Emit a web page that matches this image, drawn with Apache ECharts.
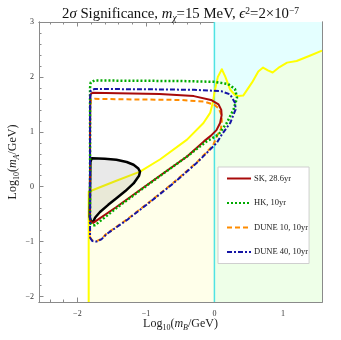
<!DOCTYPE html>
<html><head><meta charset="utf-8">
<script src="https://cdn.jsdelivr.net/npm/echarts@6/dist/echarts.min.js"></script>
<style>html,body{margin:0;padding:0;background:#fff}#c{width:341px;height:340px}</style>
</head><body><div id="c"></div>
<script>
const xMin = -2.56, xMax = 1.57, yMin = -2.1, yMax = 3;
const xTicks = [-2, -1, 0, 1];
const xMinorTicks = [-2.4, -2.2, -1.8, -1.6, -1.4, -1.2, -0.8, -0.6, -0.4, -0.2, 0.2, 0.4, 0.6, 0.8, 1.2, 1.4];
const yTicks = [-2, -1, 0, 1, 2, 3];
const yMinorTicks = [-1.8, -1.6, -1.4, -1.2, -0.8, -0.6, -0.4, -0.2, 0.2, 0.4, 0.6, 0.8, 1.2, 1.4, 1.6, 1.8, 2.2, 2.4, 2.6, 2.8];

const boundaryX = 0;
const yellowCurve = [[-1.835,-2.1],[-1.835,-0.09],[-1.79,-0.07],[-1.45,0.1],[-1.086,0.275],[-0.79,0.5],[-0.40,0.857],[-0.16,1.16],[-0.06,1.35],[-0.02,1.55],[0,1.72],[0.05,2.0],[0.108,2.14],[0.16,2.0],[0.23,1.77],[0.3,1.67],[0.35,1.65],[0.42,1.66],[0.55,1.9],[0.64,2.1],[0.71,2.17],[0.78,2.12],[0.85,2.08],[0.95,2.18],[1.06,2.26],[1.2,2.29],[1.4,2.39],[1.57,2.48]];

const skCurve = [[-1.815,-0.6],[-1.80,-0.645],[-1.77,-0.66],[-1.43,-0.37],[-1.086,-0.06],[-0.745,0.245],[-0.40,0.55],[-0.15,0.83],[-0.05,0.93],[0.03,1.03],[0.083,1.16],[0.105,1.3],[0.1,1.4],[0.06,1.5],[-0.05,1.58],[-0.3,1.65],[-0.8,1.69],[-1.4,1.70],[-1.78,1.71],[-1.81,1.68],[-1.815,1.0],[-1.815,0],[-1.815,-0.6]];
const hkCurve = [[-1.815,-0.66],[-1.78,-0.70],[-1.74,-0.70],[-1.43,-0.39],[-1.086,-0.07],[-0.745,0.24],[-0.40,0.55],[-0.12,0.82],[0.06,0.95],[0.18,1.16],[0.28,1.41],[0.33,1.62],[0.30,1.78],[0.2,1.87],[0.0,1.91],[-0.5,1.925],[-1.2,1.93],[-1.75,1.935],[-1.805,1.9],[-1.815,1.8],[-1.815,0],[-1.815,-0.66]];
const dune10Curve = [[-1.815,-0.92],[-1.78,-0.98],[-1.72,-0.99],[-1.65,-0.95],[-1.57,-0.85],[-1.28,-0.6],[-0.94,-0.27],[-0.6,0.07],[-0.26,0.44],[-0.02,0.75],[0.035,0.92],[0.095,1.05],[0.108,1.2],[0.1,1.32],[0.06,1.43],[0.0,1.49],[-0.15,1.55],[-0.5,1.58],[-1.2,1.59],[-1.75,1.6],[-1.805,1.57],[-1.815,1.4],[-1.815,0],[-1.815,-0.92]];
const dune40Curve = [[-1.815,-0.93],[-1.78,-0.99],[-1.72,-1.0],[-1.65,-0.96],[-1.57,-0.86],[-1.28,-0.61],[-0.94,-0.28],[-0.6,0.06],[-0.26,0.43],[0.035,0.8],[0.108,0.95],[0.23,1.16],[0.31,1.41],[0.30,1.53],[0.23,1.68],[0.1,1.74],[-0.3,1.765],[-1.0,1.775],[-1.75,1.78],[-1.805,1.75],[-1.815,1.6],[-1.815,0],[-1.815,-0.93]];
const blackCurve = [[-1.79,0.52],[-1.6,0.51],[-1.43,0.49],[-1.28,0.45],[-1.18,0.40],[-1.11,0.33],[-1.086,0.275],[-1.1,0.2],[-1.18,0.06],[-1.3,-0.08],[-1.43,-0.21],[-1.55,-0.33],[-1.67,-0.46],[-1.74,-0.56],[-1.77,-0.64],[-1.80,-0.63],[-1.82,-0.55],[-1.815,0.0],[-1.81,0.45]];

const seriesNames = ['SK, 28.6yr', 'HK, 10yr', 'DUNE 10, 10yr', 'DUNE 40, 10yr'];

const serif = '"Liberation Serif", "DejaVu Serif", serif';
const fmt = v => String(v).replace('-', '\u2212');
const axColor = '#8a8a8a';

function xa(pos, ticks, len, labels, extra) {
  return Object.assign({
    type: 'value', min: xMin, max: xMax, position: pos,
    axisLine: {show: true, onZero: false, lineStyle: {color: axColor, width: 1}},
    axisTick: {show: true, inside: true, length: len, customValues: ticks, lineStyle: {color: axColor}},
    axisLabel: labels ? {show: true, customValues: ticks, formatter: fmt, fontFamily: serif, fontSize: 8, color: '#333', margin: 8} : {show: false},
    splitLine: {show: false}
  }, extra || {});
}
function ya(pos, ticks, len, labels, extra) {
  return Object.assign({
    type: 'value', min: yMin, max: yMax, position: pos,
    axisLine: {show: true, onZero: false, lineStyle: {color: axColor, width: 1}},
    axisTick: {show: true, inside: true, length: len, customValues: ticks, lineStyle: {color: axColor}},
    axisLabel: labels ? {show: true, customValues: ticks, formatter: fmt, fontFamily: serif, fontSize: 8, color: '#333', margin: 5} : {show: false},
    splitLine: {show: false}
  }, extra || {});
}

const nameRich = {
  n: {fontFamily: serif, fontSize: 12, fontWeight: 'normal', color: '#222', lineHeight: 16, verticalAlign: 'middle'},
  i: {fontFamily: serif, fontSize: 12, fontWeight: 'normal', fontStyle: 'italic', color: '#222', lineHeight: 16, verticalAlign: 'middle'},
  s: {fontFamily: serif, fontSize: 8, fontWeight: 'normal', color: '#222', lineHeight: 9, verticalAlign: 'bottom'},
  si: {fontFamily: serif, fontSize: 8, fontWeight: 'normal', fontStyle: 'italic', color: '#222', lineHeight: 9, verticalAlign: 'bottom'}
};

function polySeries(points, fill, stroke, lw, z) {
  return {
    type: 'custom', coordinateSystem: 'cartesian2d', silent: true, z: z, clip: true,
    data: [[points[0][0], points[0][1]]],
    renderItem: (params, api) => ({
      type: 'polygon',
      shape: {points: points.map(p => api.coord(p))},
      style: {fill: fill, stroke: stroke || null, lineWidth: lw || 0, lineJoin: 'round'}
    })
  };
}

const leftYellow = yellowCurve.filter(p => p[0] <= boundaryX).concat([[boundaryX, yMin]]);
const rightGreen = yellowCurve.filter(p => p[0] >= boundaryX).concat([[xMax, yMin], [boundaryX, yMin]]);
const cyanRect = [[boundaryX, yMin], [xMax, yMin], [xMax, yMax], [boundaryX, yMax]];

function lineS(name, data, color, width, type, z) {
  return {
    name: name, type: 'line', data: data, symbol: 'none', z: z, silent: true, animation: false,
    lineStyle: {color: color, width: width, type: type, cap: 'butt', join: 'round'},
    itemStyle: {color: color}
  };
}

const chart = echarts.init(document.getElementById('c'), null, {renderer: 'canvas'});
chart.setOption({
  animation: false,
  backgroundColor: '#fff',
  title: {
    text: '{n|2}{i|σ}{n| Significance, }{i|m}{si|χ}{n|=15 MeV, }{i|ϵ}{p|2}{n|=2×10}{p|−7}',
    left: 57, top: 1,
    textStyle: {fontWeight: 'normal', rich: {
      n: {fontFamily: serif, fontSize: 14.8, fontWeight: 'normal', color: '#111', lineHeight: 17, verticalAlign: 'middle'},
      i: {fontFamily: serif, fontSize: 14.8, fontWeight: 'normal', fontStyle: 'italic', color: '#111', lineHeight: 17, verticalAlign: 'middle'},
      si: {fontFamily: serif, fontSize: 9.5, fontWeight: 'normal', fontStyle: 'italic', color: '#111', lineHeight: 10, verticalAlign: 'bottom'},
      p: {fontFamily: serif, fontSize: 9.5, fontWeight: 'normal', color: '#111', lineHeight: 10, verticalAlign: 'top'}
    }}
  },
  grid: {left: 39, right: 19, top: 22, bottom: 38, containLabel: false, outerBoundsMode: 'none'},
  legend: {
    orient: 'vertical', left: 218, top: 167,
    data: seriesNames,
    itemWidth: 24, itemHeight: 10, itemGap: 15.5,
    padding: [7, 1, 7, 8],
    backgroundColor: '#fff', borderColor: '#cfcfcf', borderWidth: 1,
    itemStyle: {color: 'rgba(0,0,0,0)', borderWidth: 0, borderColor: 'rgba(0,0,0,0)'},
    textStyle: {fontFamily: serif, fontSize: 8.5, color: '#222', padding: [0, 0, 0, -2]},
    selectedMode: false
  },
  xAxis: [
    xa('bottom', xTicks, 4.5, true, {
      name: '{n|Log}{s|10}{n|(}{i|m}{si|B}{n|/GeV)}', nameLocation: 'middle', nameGap: 14, nameMoveOverlap: false,
      nameTextStyle: {rich: nameRich}
    }),
    xa('bottom', xMinorTicks, 2.5, false),
    xa('top', xTicks, 4.5, false),
    xa('top', xMinorTicks, 2.5, false)
  ],
  yAxis: [
    ya('left', yTicks, 4.5, true, {
      name: '{n|Log}{s|10}{n|(}{i|m}{si|A}{n|/GeV)}', nameLocation: 'middle', nameGap: 18, nameRotate: 90, nameMoveOverlap: false,
      nameTextStyle: {rich: nameRich}
    }),
    ya('left', yMinorTicks, 2.5, false),
    ya('right', yTicks, 4.5, false),
    ya('right', yMinorTicks, 2.5, false)
  ],
  series: [
    polySeries(cyanRect, '#E4FFFF', null, 0, 1),
    polySeries(rightGreen, '#EEFFE8', null, 0, 2),
    polySeries(leftYellow, '#FFFFEA', null, 0, 2),
    lineS('boundary', [[boundaryX, yMin], [boundaryX, yMax]], '#4FE3E3', 1.5, 'solid', 3),
    lineS('yellow', yellowCurve, '#FFFF00', 2, 'solid', 4),
    polySeries(blackCurve, 'rgba(120,120,120,0.16)', '#000', 2.5, 5),
    lineS(seriesNames[0], skCurve, '#A80A0A', 2, 'solid', 8),
    lineS(seriesNames[1], hkCurve, '#00AA00', 2.5, [2, 2], 9),
    lineS(seriesNames[2], dune10Curve, '#FF8C00', 2, [5, 3], 7),
    lineS(seriesNames[3], dune40Curve, '#1515A5', 2, [5, 2, 2, 2], 10)
  ]
});
</script></body></html>
